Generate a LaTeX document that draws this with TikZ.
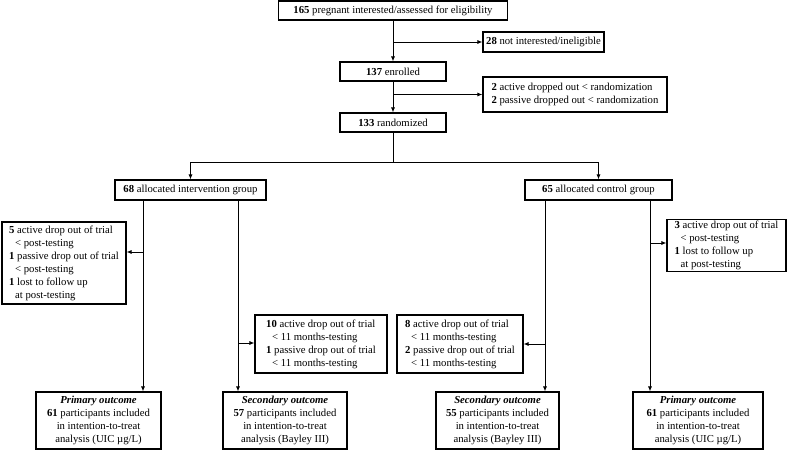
\documentclass[tikz,border=0pt]{standalone}
\usepackage{fontspec}
\setmainfont{Liberation Serif}
\usetikzlibrary{arrows.meta}

\tikzset{
  box/.style={draw, line width=1.1pt, inner sep=2pt, font=\fontsize{10.7}{13}\selectfont},
  drop/.style={box, align=left},
  outc/.style={box, align=center, minimum height=57pt},
  arr/.style={-{Latex[length=5pt,width=4pt]}, line width=0.8pt},
  ln/.style={line width=0.8pt}
}
\newcommand{\ind}{\hspace*{6pt}}

\begin{document}
\begin{tikzpicture}[x=1pt,y=-1pt]
  \useasboundingbox (0,0) rectangle (787,451);
  % screening
  \node[box, minimum width=229pt, minimum height=19pt] (screen) at (393,10.5) {\textbf{165} pregnant interested/assessed for eligibility};
  \node[box, minimum width=121pt, minimum height=20pt] (excl) at (543.5,42) {\textbf{28} not interested/ineligible};
  \node[box, minimum width=106pt, minimum height=19pt] (enrolled) at (393,71.5) {\textbf{137} enrolled};
  \node[drop, minimum width=184pt, minimum height=35pt] (preout) at (575,94.5) {\textbf{2} active dropped out < randomization\\\textbf{2} passive dropped out < randomization};
  \node[box, minimum width=106pt, minimum height=19pt] (random) at (393,122.5) {\textbf{133} randomized};

  % allocation
  \node[box, minimum width=151pt, minimum height=20pt] (interv) at (190.5,190) {\textbf{68} allocated intervention group};
  \node[box, minimum width=147pt, minimum height=20pt] (control) at (598.5,190) {\textbf{65} allocated control group};

  % drop outs
  \node[drop, minimum width=124pt, minimum height=82pt] (dropL) at (64,263) {\textbf{5} active drop out of trial\\\ind< post-testing\\\textbf{1} passive drop out of trial\\\ind< post-testing\\\textbf{1} lost to follow up\\\ind at post-testing};
  \node[drop, minimum width=119pt, minimum height=49pt] (dropR) at (726.5,245.5) {\textbf{3} active drop out of trial\\\ind< post-testing\\\textbf{1} lost to follow up\\\ind at post-testing};
  \node[drop, minimum width=132pt, minimum height=58pt] (dropML) at (321,344) {\textbf{10} active drop out of trial\\\ind< 11 months-testing\\\textbf{1} passive drop out of trial\\\ind< 11 months-testing};
  \node[drop, minimum width=126pt, minimum height=58pt] (dropMR) at (460,344) {\textbf{8} active drop out of trial\\\ind< 11 months-testing\\\textbf{2} passive drop out of trial\\\ind< 11 months-testing};

  % outcomes
  \node[outc, minimum width=125pt] (primL) at (98.5,420.5) {\textbf{\textit{Primary outcome}}\\\textbf{61} participants included\\in intention-to-treat\\analysis (UIC µg/L)};
  \node[outc, minimum width=124pt] (secL) at (285,420.5) {\textbf{\textit{Secondary outcome}}\\\textbf{57} participants included\\in intention-to-treat\\analysis (Bayley III)};
  \node[outc, minimum width=123pt] (secR) at (497.5,420.5) {\textbf{\textit{Secondary outcome}}\\\textbf{55} participants included\\in intention-to-treat\\analysis (Bayley III)};
  \node[outc, minimum width=130pt] (primR) at (698,420.5) {\textbf{\textit{Primary outcome}}\\\textbf{61} participants included\\in intention-to-treat\\analysis (UIC µg/L)};

  % branch points
  \coordinate (split) at (393,162);
  \coordinate (tapL) at (143,252);
  \coordinate (tapML) at (238,343);
  \coordinate (tapMR) at (545,344);
  \coordinate (tapR) at (650,243);

  % connectors
  \draw[arr] (screen) -- (enrolled);
  \draw[arr] (screen.south |- excl.west) -- (excl.west);
  \draw[arr] (enrolled) -- (random);
  \draw[arr] (enrolled.south |- preout.west) -- (preout.west);
  \draw[ln] (random) -- (split);
  \draw[arr] (split) -| (interv.north);
  \draw[arr] (split) -| (control.north);

  \draw[arr] (interv.south -| tapL) -- (primL.north -| tapL);
  \draw[arr] (interv.south -| tapML) -- (secL.north -| tapML);
  \draw[arr] (control.south -| tapMR) -- (secR.north -| tapMR);
  \draw[arr] (control.south -| tapR) -- (primR.north -| tapR);

  \draw[arr] (tapL) -- (tapL -| dropL.east);
  \draw[arr] (tapML) -- (tapML -| dropML.west);
  \draw[arr] (tapMR) -- (tapMR -| dropMR.east);
  \draw[arr] (tapR) -- (tapR -| dropR.west);
\end{tikzpicture}
\end{document}
